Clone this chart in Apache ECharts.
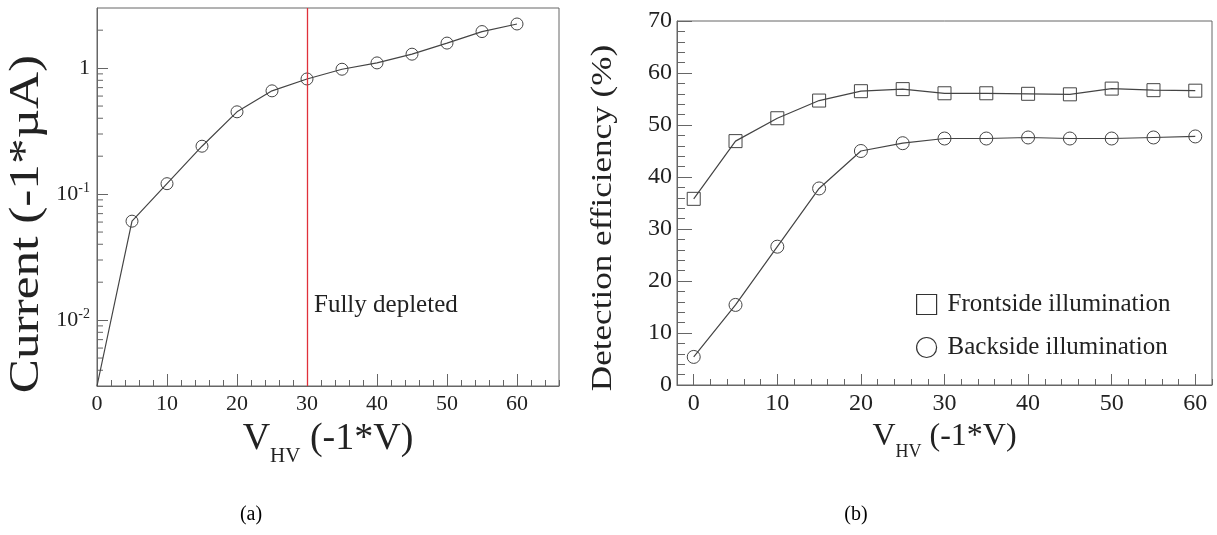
<!DOCTYPE html>
<html>
<head>
<meta charset="utf-8">
<script src="https://cdn.jsdelivr.net/npm/echarts@6/dist/echarts.min.js"></script>
<style>
  html, body { margin: 0; padding: 0; background: #fff; }
  #chart { width: 1217px; height: 535px; }
</style>
</head>
<body>
<div id="chart"></div>
<script>
// (a) leakage current vs bias voltage
var voltA = [0, 5, 10, 15, 20, 25, 30, 35, 40, 45, 50, 55, 60];
var currentA = [0.003, 0.061, 0.121, 0.24, 0.45, 0.66, 0.82, 0.98, 1.10, 1.29, 1.58, 1.95, 2.24];
var depletionVolt = 30;
var logMinorTicks = [0.004, 0.005, 0.006, 0.007, 0.008, 0.009,
                     0.02, 0.03, 0.04, 0.05, 0.06, 0.07, 0.08, 0.09,
                     0.2, 0.3, 0.4, 0.5, 0.6, 0.7, 0.8, 0.9, 2];

// (b) detection efficiency vs bias voltage
var voltB = [0, 5, 10, 15, 20, 25, 30, 35, 40, 45, 50, 55, 60];
var frontside = [35.8, 46.9, 51.3, 54.7, 56.5, 56.9, 56.1, 56.1, 56.0, 55.9, 57.0, 56.7, 56.6];
var backside = [5.4, 15.4, 26.6, 37.8, 45.0, 46.5, 47.4, 47.4, 47.6, 47.4, 47.4, 47.6, 47.8];
var xTicksB = [0, 10, 20, 30, 40, 50, 60];

var FONT = 'Liberation Serif';
var AXIS = '#666';
var INK = '#222';
var LINE = '#444';

function pairs(xs, ys) {
  return xs.map(function (x, i) { return [x, ys[i]]; });
}

var chart = echarts.init(document.getElementById('chart'));

var xTitle = function (size, subSize, drop) {
  return {
    fontFamily: FONT, fontSize: size, color: INK,
    rich: {
      sub: { fontFamily: FONT, fontSize: subSize, color: INK, padding: [drop, 0, 0, 0] }
    }
  };
};

var option = {
  animation: false,
  textStyle: { fontFamily: FONT },
  grid: [
    { left: 97, top: 8, width: 462, height: 378, show: true, borderColor: AXIS, borderWidth: 1 },
    { left: 677, top: 21, width: 535, height: 364, show: true, borderColor: AXIS, borderWidth: 1 }
  ],
  xAxis: [
    {
      gridIndex: 0, type: 'value', min: 0, max: 66, interval: 10,
      axisLine: { lineStyle: { color: AXIS } },
      axisTick: { inside: true, length: 12, lineStyle: { color: AXIS } },
      axisLabel: { margin: 7, fontSize: 22, color: INK, fontFamily: FONT, showMaxLabel: false },
      splitLine: { show: false },
      name: 'V{sub|HV} (-1*V)', nameLocation: 'middle', nameGap: 18,
      nameTextStyle: xTitle(38, 21, 36)
    },
    {
      gridIndex: 0, type: 'value', min: 0, max: 66, interval: 2, position: 'bottom',
      axisLine: { show: false },
      axisTick: { inside: true, length: 6, lineStyle: { color: AXIS } },
      axisLabel: { show: false },
      splitLine: { show: false }
    },
    {
      gridIndex: 1, type: 'value', min: -2, max: 62,
      axisLine: { lineStyle: { color: AXIS } },
      axisTick: { inside: true, length: 11, lineStyle: { color: AXIS }, customValues: xTicksB },
      axisLabel: { margin: 7, fontSize: 24, color: INK, fontFamily: FONT, customValues: xTicksB },
      splitLine: { show: false },
      name: 'V{sub|HV} (-1*V)', nameLocation: 'middle', nameGap: 14,
      nameTextStyle: xTitle(32, 18, 30)
    },
    {
      gridIndex: 1, type: 'value', min: -2, max: 62, interval: 2, position: 'bottom',
      axisLine: { show: false },
      axisTick: { inside: true, length: 6, lineStyle: { color: AXIS } },
      axisLabel: { show: false },
      splitLine: { show: false }
    }
  ],
  yAxis: [
    {
      gridIndex: 0, type: 'log', logBase: 10, min: 0.003, max: 3,
      axisLine: { onZero: false, lineStyle: { color: AXIS } },
      axisTick: { inside: true, length: 11, lineStyle: { color: AXIS } },
      axisLabel: {
        margin: 7, fontSize: 22, color: INK, fontFamily: FONT,
        showMinLabel: false, showMaxLabel: false,
        formatter: function (v) {
          var p = Math.round(Math.log10(v));
          return p === 0 ? '1' : '10{sup|' + p + '}';
        },
        rich: { sup: { fontSize: 14, fontFamily: FONT, color: INK, padding: [0, 0, 12, 0] } }
      },
      splitLine: { show: false }
    },
    {
      gridIndex: 1, type: 'value', min: 0, max: 70, interval: 10,
      axisLine: { onZero: false, lineStyle: { color: AXIS } },
      axisTick: { inside: true, length: 15, lineStyle: { color: AXIS } },
      minorTick: { show: true, splitNumber: 5, length: 8, lineStyle: { color: AXIS } },
      axisLabel: { margin: 5, fontSize: 24, color: INK, fontFamily: FONT },
      splitLine: { show: false }
    }
  ],
  legend: {
    left: 916, top: 292, padding: 0, orient: 'vertical', itemWidth: 20, itemHeight: 20, itemGap: 18,
    textStyle: { fontFamily: FONT, fontSize: 25, color: INK, padding: [0, 0, 0, 6] },
    itemStyle: { color: '#fff', borderColor: '#333', borderWidth: 1.2 },
    data: [
      { name: 'Frontside illumination', icon: 'rect' },
      { name: 'Backside illumination', icon: 'circle' }
    ]
  },
  graphic: [
    { type: 'text', x: 27, y: 224, rotation: Math.PI / 2, scaleX: 1.22,
      style: { text: 'Current (-1*µA)', font: '42px "Liberation Serif"', fill: INK, align: 'center', verticalAlign: 'middle' } },
    { type: 'text', x: 603, y: 218, rotation: Math.PI / 2, scaleX: 1.17,
      style: { text: 'Detection efficiency (%)', font: '30px "Liberation Serif"', fill: INK, align: 'center', verticalAlign: 'middle' } },
    { type: 'text', x: 251, y: 515,
      style: { text: '(a)', font: '20px "Liberation Serif"', fill: '#000', align: 'center', verticalAlign: 'middle' } },
    { type: 'text', x: 856, y: 515,
      style: { text: '(b)', font: '20px "Liberation Serif"', fill: '#000', align: 'center', verticalAlign: 'middle' } }
  ],
  series: [
    {
      name: 'Current', type: 'line', xAxisIndex: 0, yAxisIndex: 0,
      data: pairs(voltA, currentA).map(function (d, i) {
        return i === 0 ? { value: d, symbol: 'none' } : d;
      }),
      symbol: 'circle', symbolSize: 12,
      itemStyle: { color: 'rgba(0,0,0,0)', borderColor: LINE, borderWidth: 1 },
      lineStyle: { color: LINE, width: 1.2 },
      markLine: {
        silent: true, symbol: ['none', 'none'],
        lineStyle: { color: '#e0303a', width: 1.3, type: 'solid' },
        label: { show: false },
        data: [{ xAxis: depletionVolt }]
      },
      markPoint: {
        silent: true, symbol: 'circle', symbolSize: 0,
        label: { show: true, position: 'right', distance: 7, formatter: 'Fully depleted',
                 fontFamily: FONT, fontSize: 25, color: INK },
        data: [{ coord: [depletionVolt, 0.013] }]
      }
    },
    {
      name: 'minorLog', type: 'custom', xAxisIndex: 0, yAxisIndex: 0, silent: true,
      data: logMinorTicks.map(function (v) { return [0, v]; }),
      renderItem: function (params, api) {
        var p = api.coord([0, api.value(1)]);
        return {
          type: 'line',
          shape: { x1: p[0], y1: p[1], x2: p[0] + 6, y2: p[1] },
          style: { stroke: AXIS, lineWidth: 1 }
        };
      }
    },
    {
      name: 'Frontside illumination', type: 'line', xAxisIndex: 2, yAxisIndex: 1,
      data: pairs(voltB, frontside),
      symbol: 'rect', symbolSize: 13,
      itemStyle: { color: 'rgba(0,0,0,0)', borderColor: LINE, borderWidth: 1 },
      lineStyle: { color: LINE, width: 1.2 }
    },
    {
      name: 'Backside illumination', type: 'line', xAxisIndex: 2, yAxisIndex: 1,
      data: pairs(voltB, backside),
      symbol: 'circle', symbolSize: 13,
      itemStyle: { color: 'rgba(0,0,0,0)', borderColor: LINE, borderWidth: 1 },
      lineStyle: { color: LINE, width: 1.2 }
    }
  ]
};

chart.setOption(option);
</script>
</body>
</html>
